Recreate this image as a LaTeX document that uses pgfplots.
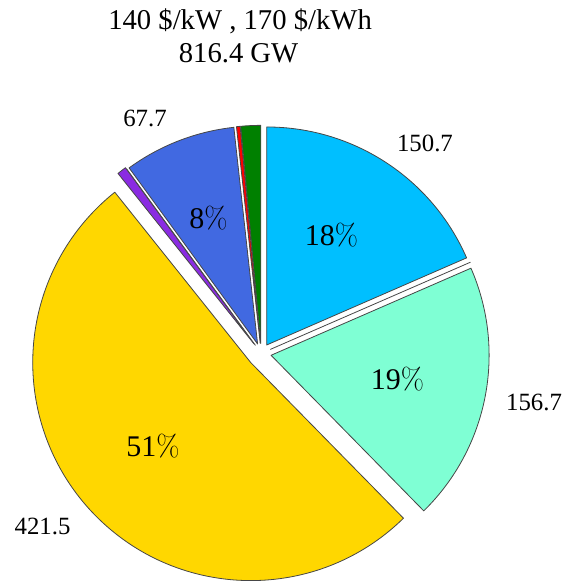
\documentclass[border=0pt]{standalone}
\usepackage{pgfplots}
\pgfplotsset{compat=1.18}
\usepackage{fontspec}
\newfontfamily\serif{Liberation Serif}

\definecolor{skyfill}{RGB}{0,191,255}
\definecolor{aquafill}{RGB}{127,255,212}
\definecolor{goldfill}{RGB}{255,215,0}
\definecolor{violetfill}{RGB}{138,43,226}
\definecolor{royalfill}{RGB}{65,105,225}
\definecolor{redfill}{RGB}{255,0,0}
\definecolor{greenfill}{RGB}{0,128,0}
\definecolor{edge}{RGB}{70,70,70}

\newcommand\ttl[1]{{\fontsize{21.5}{25}\selectfont\serif #1}}
\newcommand\lbl[1]{{\fontsize{18.6}{22}\selectfont\serif #1}}
\newcommand\pct[1]{{\fontsize{22.5}{26}\selectfont{\serif #1}\%}}

% pie bookkeeping: total, running angle (clockwise from 12 o'clock), collected paths
\def\total{816.4}
\gdef\cum{90}
\gdef\wedges{}
% \slice{value}{fill colour}{radial offset, radius = 1}
\newcommand\slice[3]{%
  \pgfmathsetmacro\angA{\cum}%
  \pgfmathsetmacro\angB{\cum-#1/\total*360}%
  \pgfmathsetmacro\angM{(\angA+\angB)/2}%
  \pgfmathsetmacro\ox{#3*cos(\angM)}%
  \pgfmathsetmacro\oy{#3*sin(\angM)}%
  \pgfmathsetmacro\rx{\ox+cos(\angA)}%
  \pgfmathsetmacro\ry{\oy+sin(\angA)}%
  \xdef\wedges{\unexpanded\expandafter{\wedges}%
    \noexpand\filldraw[fill=#2] (axis cs:\ox,\oy) -- (axis cs:\rx,\ry)
      arc[start angle=\angA, end angle=\angB, radius=1] -- cycle;}%
  \xdef\cum{\angB}%
}
\slice{150.7}{skyfill}{0.046}
\slice{0}{white}{0.046}
\slice{156.7}{aquafill}{0.046}
\slice{421.5}{goldfill}{0.064}
\slice{5.6}{violetfill}{0.055}
\slice{0}{white}{0.046}
\slice{67.7}{royalfill}{0.046}
\slice{2.2}{redfill}{0.046}
\slice{12.0}{greenfill}{0.046}

\begin{document}
\begin{tikzpicture}
\begin{axis}[
  hide axis, scale only axis, clip=false,
  width=422.25pt, height=438pt,
  xmin=-1.198, xmax=1.384, ymin=-1.058, ymax=1.621,
]
\begin{scope}[draw=edge, line width=0.6pt, line join=round]
\wedges
\end{scope}
% title
\node[anchor=base] at (axis cs:-0.097,1.487) {\ttl{140 \$/kW , 170 \$/kWh}};
\node[anchor=base] at (axis cs:-0.104,1.333) {\ttl{816.4 GW}};
% values
\node[anchor=base] at (axis cs:0.751,0.925) {\lbl{150.7}};
\node[anchor=base] at (axis cs:1.251,-0.264) {\lbl{156.7}};
\node[anchor=base] at (axis cs:-1.003,-0.833) {\lbl{421.5}};
\node[anchor=base] at (axis cs:-0.533,1.039) {\lbl{67.7}};
% shares
\node[anchor=base] at (axis cs:0.322,0.497) {\pct{18}};
\node[anchor=base] at (axis cs:0.625,-0.168) {\pct{19}};
\node[anchor=base] at (axis cs:-0.496,-0.471) {\pct{51}};
\node[anchor=base] at (axis cs:-0.242,0.571) {\pct{8}};
\end{axis}
\pgfresetboundingbox
\useasboundingbox (current axis.south west) rectangle (current axis.north east);
\end{tikzpicture}
\end{document}
